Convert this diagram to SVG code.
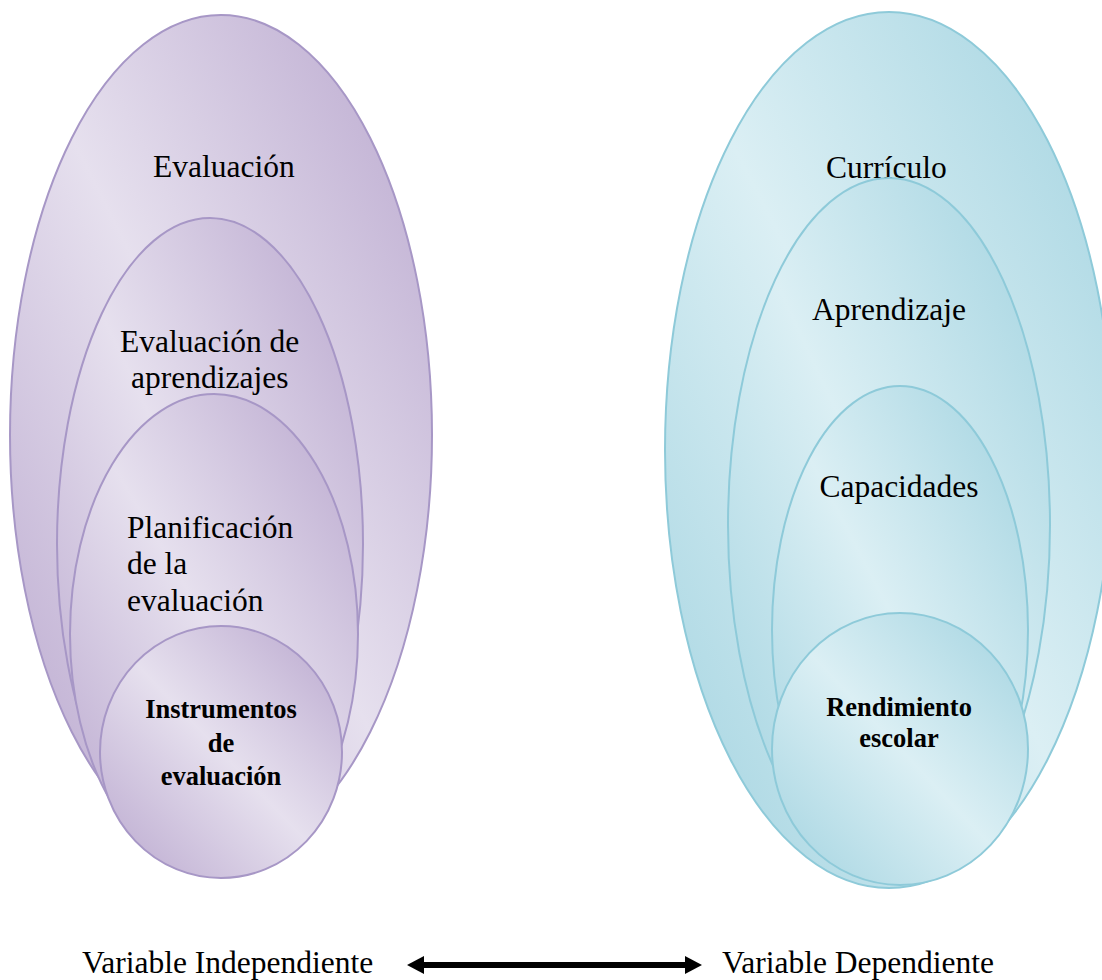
<svg xmlns="http://www.w3.org/2000/svg" width="1102" height="980" viewBox="0 0 1102 980">
  <defs>
    <linearGradient id="gP" x1="0" y1="1" x2="1" y2="0">
      <stop offset="0" stop-color="#b9a7ce"/>
      <stop offset="0.5" stop-color="#e6e0ee"/>
      <stop offset="1" stop-color="#b9a7ce"/>
    </linearGradient>
    <linearGradient id="gB" x1="0" y1="1" x2="1" y2="0">
      <stop offset="0" stop-color="#a2d3e0"/>
      <stop offset="0.5" stop-color="#dbeff4"/>
      <stop offset="1" stop-color="#a2d3e0"/>
    </linearGradient>
    <style>
      .p { fill: url(#gP); stroke: #a797c6; stroke-width: 2; }
      .b { fill: url(#gB); stroke: #8ecad9; stroke-width: 2; }
      .t { font-family: "Liberation Serif", "Times New Roman", serif; font-size: 31.5px; fill: #000; }
      .tb { font-family: "Liberation Serif", "Times New Roman", serif; font-size: 26.5px; font-weight: bold; fill: #000; text-anchor: middle; }
      .lbl { font-family: "Liberation Serif", "Times New Roman", serif; font-size: 31.5px; fill: #000; }
    </style>
  </defs>

  <g id="evaluacion">
    <ellipse class="p" cx="221" cy="435" rx="211" ry="420"/>
    <text class="t" x="153" y="177">Evaluación</text>
  </g>
  <g id="evaluacion-aprendizajes">
    <ellipse class="p" cx="210" cy="544" rx="153" ry="326"/>
    <text class="t" x="120" y="352">Evaluación de</text>
    <text class="t" x="131" y="388">aprendizajes</text>
  </g>
  <g id="planificacion">
    <ellipse class="p" cx="214" cy="634" rx="144" ry="240"/>
    <text class="t" x="127" y="538">Planificación</text>
    <text class="t" x="127" y="574">de la</text>
    <text class="t" x="127" y="611">evaluación</text>
  </g>
  <g id="instrumentos">
    <ellipse class="p" cx="221" cy="752" rx="121" ry="126"/>
    <text class="tb" x="221" y="718">Instrumentos</text>
    <text class="tb" x="221" y="752">de</text>
    <text class="tb" x="221" y="785">evaluación</text>
  </g>

  <g id="curriculo">
    <ellipse class="b" cx="889" cy="450" rx="224" ry="438"/>
    <text class="t" x="826" y="178">Currículo</text>
  </g>
  <g id="aprendizaje">
    <ellipse class="b" cx="889" cy="525" rx="161" ry="347"/>
    <text class="t" x="812" y="320">Aprendizaje</text>
  </g>
  <g id="capacidades">
    <ellipse class="b" cx="900" cy="630" rx="128" ry="244"/>
    <text class="t" x="899" y="497" text-anchor="middle">Capacidades</text>
  </g>
  <g id="rendimiento">
    <ellipse class="b" cx="900" cy="749" rx="128" ry="136"/>
    <text class="tb" x="899" y="716">Rendimiento</text>
    <text class="tb" x="899" y="747">escolar</text>
  </g>

  <g id="var-independiente">
    <text class="lbl" x="82" y="973">Variable Independiente</text>
  </g>
  <g id="var-dependiente">
    <text class="lbl" x="722" y="973">Variable Dependiente</text>
  </g>

  <g id="connectors">
    <line x1="420" y1="965" x2="690" y2="965" stroke="#000" stroke-width="6"/>
    <polygon points="407,965 424,956 424,974" fill="#000"/>
    <polygon points="702,965 685,956 685,974" fill="#000"/>
  </g>
</svg>
